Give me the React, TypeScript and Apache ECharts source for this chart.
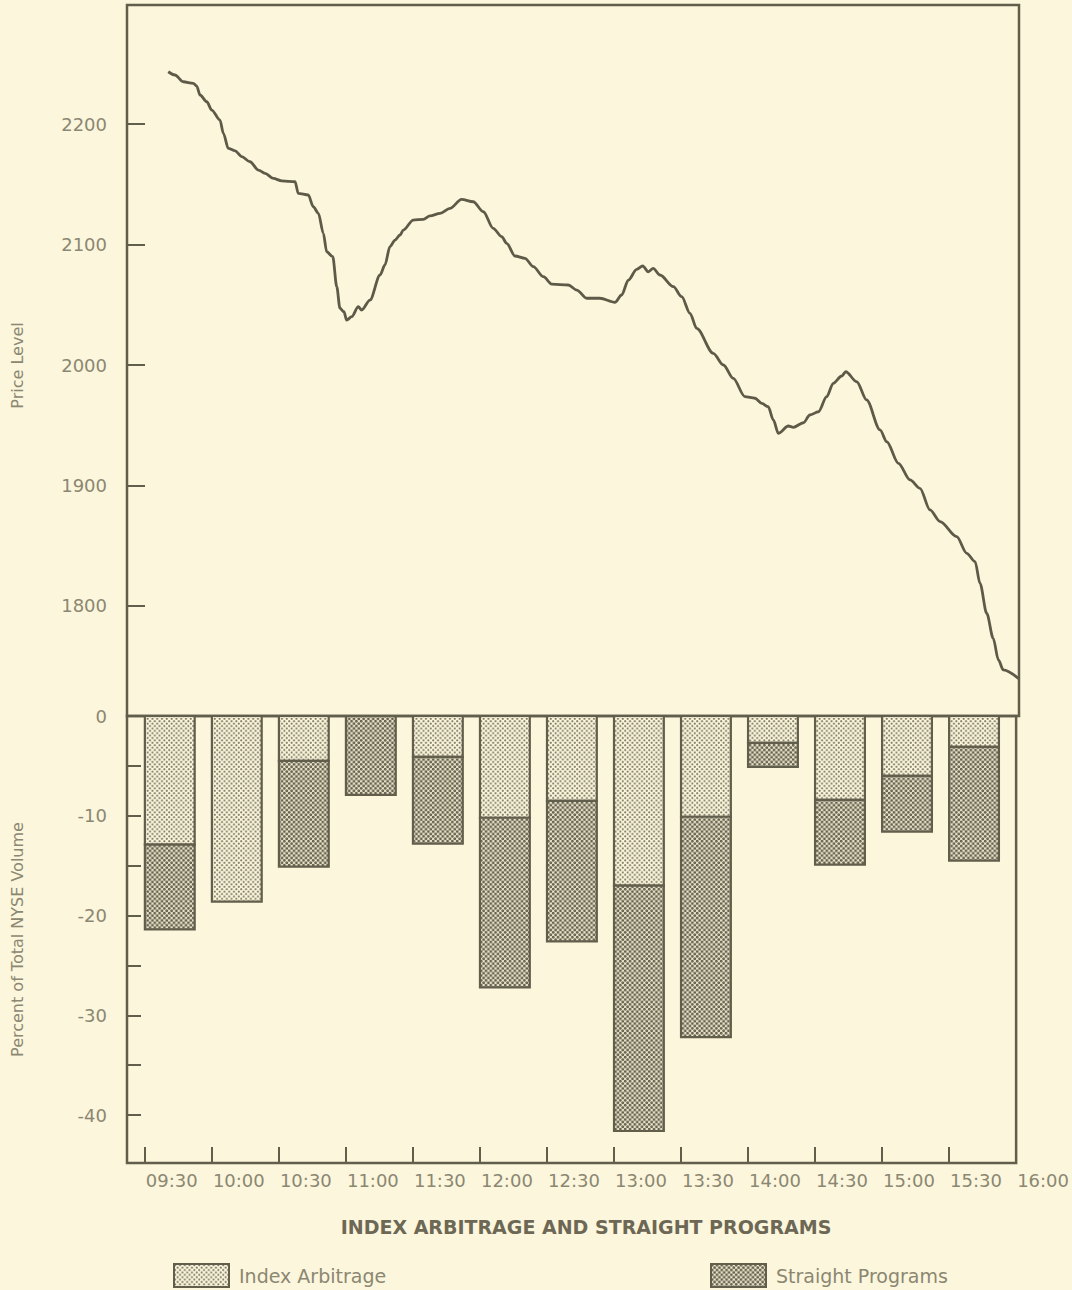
import React, { useEffect, useRef } from "react";
import * as echarts from "echarts";

// ---- data ----
// half-hour interval starts for the program-trading bars
const barIntervals = ["09:30", "10:00", "10:30", "11:00", "11:30", "12:00", "12:30", "13:00", "13:30", "14:00", "14:30", "15:00", "15:30"];
// percent of total NYSE volume (negative = selling)
const indexArbitrage = [-12.9, -18.6, -4.5, 0, -4.1, -10.2, -8.5, -17.0, -10.1, -2.7, -8.4, -6.0, -3.1];
const straightPrograms = [-8.5, 0, -10.6, -7.9, -8.7, -17.0, -14.1, -24.6, -22.1, -2.4, -6.5, -5.6, -11.4];

// x axis tick labels
const timeTicks = ["09:30", "10:00", "10:30", "11:00", "11:30", "12:00", "12:30", "13:00", "13:30", "14:00", "14:30", "15:00", "15:30", "16:00"];
const priceTicks = [1800, 1900, 2000, 2100, 2200];
const volumeLabelTicks = [0, -10, -20, -30, -40];
const volumeMinorTicks = [0, -5, -10, -15, -20, -25, -30, -35, -40];

// price level path: time (minutes after midnight) and price
const priceTimes = [
  580.4, 583.4, 587.1, 591.6, 593.1, 594.6, 597.6, 599.8, 603.5, 605.0,
  607.2, 610.2, 613.2, 616.9, 620.6, 623.6, 627.3, 631.0, 637.0, 638.4,
  642.9, 645.1, 647.4, 649.6, 651.1, 653.8, 655.6, 657.0, 658.8, 660.0,
  662.3, 665.2, 666.7, 670.4, 674.9, 677.1, 679.3, 681.6, 683.8, 685.3,
  689.7, 694.2, 697.2, 701.7, 706.1, 711.3, 716.5, 721.0, 725.4, 729.2,
  731.4, 735.1, 739.6, 743.3, 747.8, 751.5, 758.9, 762.7, 767.1, 773.0,
  779.7, 782.7, 785.7, 789.4, 792.1, 794.6, 796.8, 799.8, 805.8, 809.5,
  813.2, 816.2, 823.6, 828.1, 832.5, 837.7, 842.2, 845.2, 848.1, 850.4,
  852.6, 857.1, 859.3, 863.8, 866.7, 870.5, 874.2, 877.1, 880.9, 882.7,
  887.6, 892.0, 898.0, 901.0, 906.2, 911.4, 915.8, 920.3, 924.8, 932.2,
  936.7, 940.4, 942.6, 945.6, 948.5, 950.8, 953.0, 960.0,
];
const priceLevels = [
  2243.4, 2240.7, 2235.1, 2233.8, 2231.5, 2224.1, 2218.5, 2211.6, 2203.3, 2192.3,
  2179.8, 2177.8, 2172.9, 2168.7, 2161.8, 2159.1, 2154.9, 2152.9, 2152.1, 2142.5,
  2141.1, 2131.4, 2125.9, 2109.3, 2094.0, 2089.9, 2065.0, 2047.1, 2044.2, 2037.3,
  2040.1, 2048.4, 2045.6, 2053.9, 2074.7, 2083.0, 2098.2, 2103.7, 2107.9, 2112.0,
  2120.3, 2120.9, 2123.7, 2125.9, 2130.0, 2137.5, 2135.5, 2127.2, 2113.4, 2106.5,
  2101.0, 2090.5, 2088.5, 2081.6, 2073.3, 2067.2, 2066.4, 2062.2, 2055.4, 2055.4,
  2052.0, 2058.1, 2070.5, 2079.4, 2082.2, 2077.4, 2080.2, 2074.7, 2065.0, 2056.7,
  2042.9, 2030.4, 2009.7, 2000.0, 1988.9, 1973.7, 1972.4, 1968.2, 1965.4, 1954.4,
  1943.3, 1949.4, 1948.3, 1952.1, 1958.5, 1961.2, 1973.7, 1984.8, 1990.9, 1994.4,
  1986.1, 1971.0, 1946.1, 1936.3, 1918.4, 1904.6, 1897.7, 1879.7, 1870.0, 1857.5,
  1843.7, 1836.8, 1818.8, 1793.9, 1773.2, 1755.2, 1746.9, 1739.5,
];

// ---- helpers ----
const toMin = (s: string) => {
  const [h, m] = s.split(":").map(Number);
  return h * 60 + m;
};
const toHHMM = (v: number) => {
  const h = Math.floor(v / 60);
  const m = Math.round(v - h * 60);
  return String(h).padStart(2, "0") + ":" + String(m).padStart(2, "0");
};

const BG = "#fcf6dc";
const INK = "#625e4c";
const LABEL = "#8b8772";
const FONT = "DejaVu Sans";

function makePattern(radius: number, dot: string) {
  const c = document.createElement("canvas");
  c.width = 20;
  c.height = 20;
  const ctx = c.getContext("2d")!;
  ctx.fillStyle = BG;
  ctx.fillRect(0, 0, 20, 20);
  ctx.fillStyle = dot;
  const pts = [[5, 5], [15, 15], [-5, 15], [15, -5], [25, 15], [15, 25], [5, 25], [25, 5], [-5, 5], [5, -5], [-5, -5], [25, 25], [-5, 25], [25, -5]];
  for (const [x, y] of pts) {
    ctx.beginPath();
    ctx.arc(x, y, radius, 0, Math.PI * 2);
    ctx.fill();
  }
  return { image: c, repeat: "repeat", scaleX: 0.24, scaleY: 0.24 } as any;
}

export default function App() {
  const ref = useRef<HTMLDivElement>(null);
  useEffect(() => {
    if (!ref.current) return;
    const chart = echarts.init(ref.current, null, { renderer: "svg" });

    const lightPat = makePattern(4.3, "#75715d");
    const darkPat = makePattern(6.1, "#66624f");

    const xMin = 562;
    const xMax = 960;
    const barSpan = 22.3; // bar width in minutes

    const arbData = barIntervals.map((t, i) => [toMin(t), 0, indexArbitrage[i]]);
    const strData = barIntervals.map((t, i) => [toMin(t), indexArbitrage[i], straightPrograms[i]]);

    const renderBar = (fill: any) => (params: any, api: any) => {
      const start = api.value(0);
      const base = api.value(1);
      const val = api.value(2);
      if (!val) return { type: "group", children: [] };
      const p0 = api.coord([start, base]);
      const p1 = api.coord([start + barSpan, base + val]);
      return {
        type: "rect",
        shape: { x: p0[0], y: p0[1], width: p1[0] - p0[0], height: p1[1] - p0[1] },
        style: { fill, stroke: INK, lineWidth: 2.2 },
      };
    };

    const tickValuesX = timeTicks.map(toMin);
    const labelStyle = { color: LABEL, fontFamily: FONT, fontSize: 18 };

    chart.setOption({
      animation: false,
      backgroundColor: BG,
      grid: [
        { left: 127, right: 53, top: 5, height: 711, show: true, borderColor: INK, borderWidth: 2.5, backgroundColor: "transparent" },
        { left: 127, right: 53, top: 716, height: 447, show: true, borderColor: INK, borderWidth: 2.5, backgroundColor: "transparent" },
      ],
      xAxis: [
        { type: "value", gridIndex: 0, min: xMin, max: xMax, show: false },
        {
          type: "value",
          gridIndex: 1,
          min: xMin,
          max: xMax,
          axisLine: { show: false, onZero: false },
          splitLine: { show: false },
          axisTick: { show: true, inside: true, length: 16, lineStyle: { color: INK, width: 2 }, customValues: tickValuesX.slice(0, -1) },
          axisLabel: {
            ...labelStyle,
            customValues: tickValuesX,
            formatter: (v: number) => toHHMM(v),
            align: "left",
            margin: 8,
            padding: [0, 0, 0, 1],
          },
        },
      ],
      yAxis: [
        {
          type: "value",
          gridIndex: 0,
          min: 1708.7,
          max: 2298.8,
          name: "Price Level",
          nameLocation: "middle",
          nameGap: 102,
          nameTextStyle: { color: LABEL, fontFamily: FONT, fontSize: 16, padding: [0, 10, 0, 0] },
          axisLine: { show: false, onZero: false },
          splitLine: { show: false },
          axisTick: { show: true, inside: true, length: 18, lineStyle: { color: INK, width: 2 }, customValues: priceTicks },
          axisLabel: { ...labelStyle, customValues: priceTicks, margin: 20, formatter: (v: number) => String(v) },
        },
        {
          type: "value",
          gridIndex: 1,
          min: -44.81,
          max: 0,
          name: "Percent of Total NYSE Volume",
          nameLocation: "middle",
          nameGap: 102,
          nameTextStyle: { color: LABEL, fontFamily: FONT, fontSize: 16 },
          axisLine: { show: false, onZero: false },
          splitLine: { show: false },
          axisTick: { show: true, inside: true, length: 14, lineStyle: { color: INK, width: 2 }, customValues: volumeMinorTicks },
          axisLabel: { ...labelStyle, customValues: volumeLabelTicks, margin: 20, formatter: (v: number) => String(v) },
        },
      ],
      legend: [
        {
          data: ["Index Arbitrage"],
          left: 173,
          top: 1263,
          padding: 0,
          icon: "rect",
          itemWidth: 55,
          itemHeight: 23,
          itemStyle: { borderColor: INK, borderWidth: 2 },
          textStyle: { color: LABEL, fontFamily: FONT, fontSize: 19, padding: [0, 0, 0, 5] },
          selectedMode: false,
        },
        {
          data: ["Straight Programs"],
          left: 710,
          top: 1263,
          padding: 0,
          icon: "rect",
          itemWidth: 55,
          itemHeight: 23,
          itemStyle: { borderColor: INK, borderWidth: 2 },
          textStyle: { color: LABEL, fontFamily: FONT, fontSize: 19, padding: [0, 0, 0, 5] },
          selectedMode: false,
        },
      ],
      graphic: [
        {
          type: "text",
          x: 586,
          y: 1227,
          style: {
            text: "INDEX ARBITRAGE AND STRAIGHT PROGRAMS",
            fill: "#6c6855",
            font: "bold 19px 'DejaVu Sans'",
            textAlign: "center",
            textVerticalAlign: "middle",
          },
        },
      ],
      series: [
        {
          type: "line",
          name: "Price Level",
          xAxisIndex: 0,
          yAxisIndex: 0,
          data: priceTimes.map((t, i) => [t, priceLevels[i]]),
          showSymbol: false,
          smooth: 0.3,
          smoothMonotone: "x",
          lineStyle: { color: "#5e5a48", width: 2.8 },
          itemStyle: { color: "#5e5a48" },
        },
        {
          type: "custom",
          name: "Index Arbitrage",
          xAxisIndex: 1,
          yAxisIndex: 1,
          data: arbData,
          itemStyle: { color: lightPat, borderColor: INK, borderWidth: 2 },
          renderItem: renderBar(lightPat),
        },
        {
          type: "custom",
          name: "Straight Programs",
          xAxisIndex: 1,
          yAxisIndex: 1,
          data: strData,
          itemStyle: { color: darkPat, borderColor: INK, borderWidth: 2 },
          renderItem: renderBar(darkPat),
        },
      ],
    });
    return () => chart.dispose();
  }, []);

  return (
    <div style={{ position: "absolute", left: 0, top: 0, width: 1072, height: 1290, background: BG }}>
      <div ref={ref} style={{ width: 1072, height: 1290 }} />
    </div>
  );
}
